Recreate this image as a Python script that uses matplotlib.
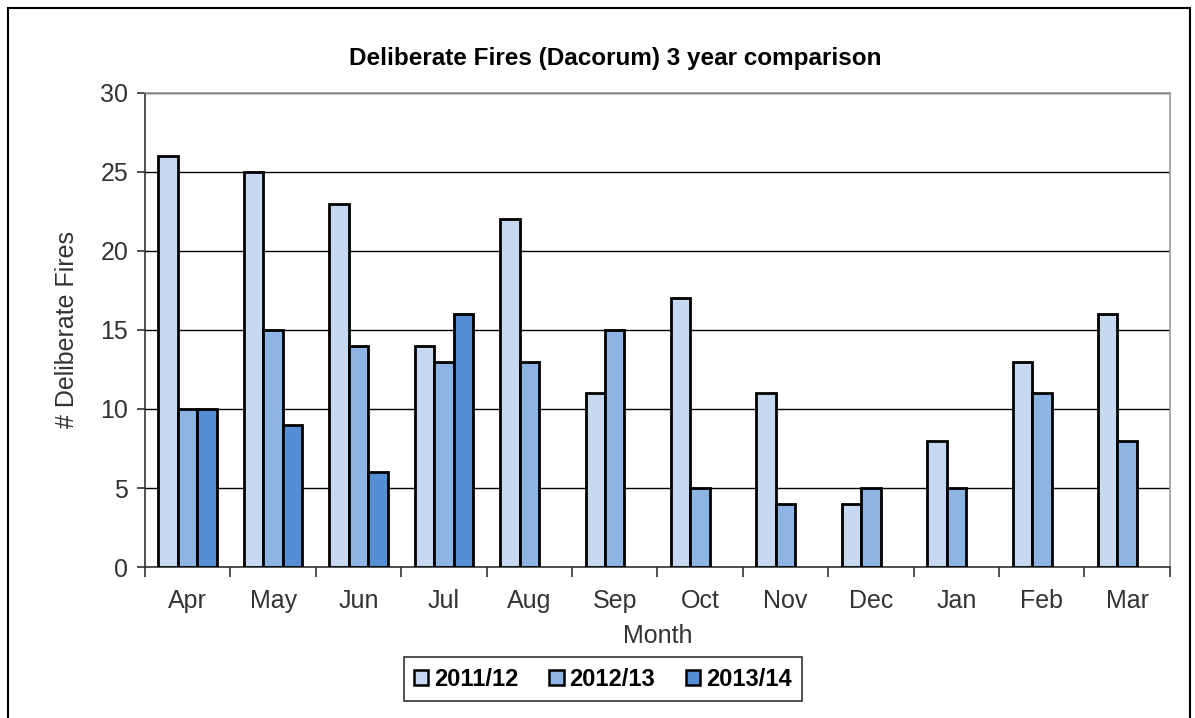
import numpy as np
import matplotlib
matplotlib.use("Agg")
import matplotlib.pyplot as plt
from matplotlib.patches import Rectangle

months = ["Apr", "May", "Jun", "Jul", "Aug", "Sep", "Oct", "Nov", "Dec", "Jan", "Feb", "Mar"]
series_names = ["2011/12", "2012/13", "2013/14"]
fires_2011 = [26, 25, 23, 14, 22, 11, 17, 11, 4, 8, 13, 16]
fires_2012 = [10, 15, 14, 13, 13, 15, 5, 4, 5, 5, 11, 8]
fires_2013 = [10, 9, 6, 16]

COLORS = ["#c6d9f1", "#8db4e2", "#558ed5"]

plt.rcParams["font.family"] = ["Liberation Sans", "DejaVu Sans"]

fig = plt.figure(figsize=(11.95, 7.18), dpi=100)
fig.patch.set_facecolor("white")
ax = fig.add_axes([0.1213, 0.2103, 0.8577, 0.6602])

x = np.arange(len(months))
w = 0.228
for i, (vals, name) in enumerate(zip([fires_2011, fires_2012, fires_2013], series_names)):
    xs = x[:len(vals)] + (i - 1) * w
    ax.bar(xs, vals, width=w, color=COLORS[i], edgecolor="black", linewidth=2,
           label=name, zorder=3)

ax.set_xlim(-0.5, len(months) - 0.5)
ax.set_ylim(0, 30)
ax.set_yticks(range(0, 31, 5))
ax.yaxis.grid(True, color="black", linewidth=1, zorder=0)
ax.set_xticks(x)
ax.set_xticklabels(months)
ax.set_xticks(np.arange(-0.5, len(months)), minor=True)
ax.tick_params(axis="x", which="major", length=0, pad=16, labelsize=18, colors="#333333")
ax.tick_params(axis="x", which="minor", length=7, width=1.2, color="#333333")
ax.tick_params(axis="y", length=6, width=1.2, labelsize=18, colors="#333333", pad=6)
for s in ["top", "right"]:
    ax.spines[s].set_color("#999999")
    ax.spines[s].set_linewidth(1.2)
for s in ["left", "bottom"]:
    ax.spines[s].set_color("#333333")
    ax.spines[s].set_linewidth(1.2)

ax.set_ylabel("# Deliberate Fires", fontsize=18, color="#333333", labelpad=15)
ax.set_xlabel("Month", fontsize=18, color="#333333", labelpad=8)
fig.text(0.515, 0.919, "Deliberate Fires (Dacorum) 3 year comparison",
         ha="center", va="center", fontsize=17.5, fontweight="bold")

leg = ax.legend(loc="center", ncol=3, frameon=True, fancybox=False, edgecolor="black",
                prop={"weight": "bold", "size": 17}, handlelength=0.6, handleheight=0.6,
                handletextpad=0.25, columnspacing=1.3, borderpad=0.45)
leg.set_bbox_to_anchor((0.5045, 0.0543), transform=fig.transFigure)
leg.get_frame().set_linewidth(1.2)
for h in leg.legend_handles:
    h.set_linewidth(1.8)

fig.add_artist(Rectangle((8 / 1195, -0.05), 1182 / 1195, 1.05 - 8 / 718,
                         transform=fig.transFigure, fill=False, edgecolor="black",
                         linewidth=1.5, clip_on=False))

fig.savefig("out.png", dpi=100, facecolor="white")
